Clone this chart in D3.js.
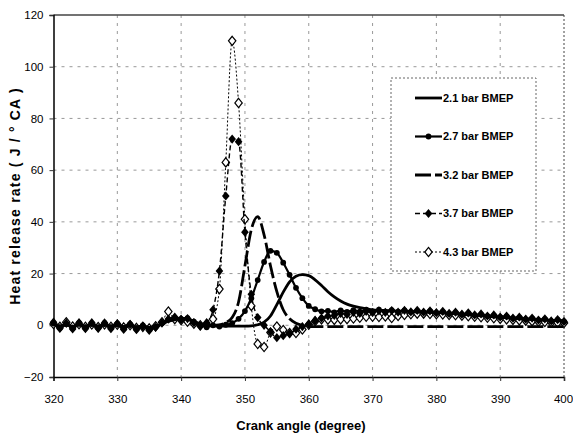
<!DOCTYPE html>
<html><head><meta charset="utf-8">
<script src="https://cdn.jsdelivr.net/npm/d3@7"></script>
<style>body{margin:0;background:#fff}svg{display:block}</style>
</head><body>
<svg id="c" width="573" height="439"></svg>
<script>
const angles = [320,321,322,323,324,325,326,327,328,329,330,331,332,333,334,335,336,337,338,339,340,341,342,343,344,345,346,347,348,349,350,351,352,353,354,355,356,357,358,359,360,361,362,363,364,365,366,367,368,369,370,371,372,373,374,375,376,377,378,379,380,381,382,383,384,385,386,387,388,389,390,391,392,393,394,395,396,397,398,399,400];
const s21 = [0.3,-0.3,0.2,-0.4,0.2,-0.3,0.1,-0.4,0.1,-0.3,0,-0.5,0,-0.6,-0.3,-0.8,-0.4,0.5,1.6,2.4,2.8,2.5,1.6,0.6,0.1,-0.2,-0.3,-0.3,-0.3,-0.3,-0.3,-0.2,0.2,1.2,3.6,8,12.8,16.8,19,19.6,19.2,17.6,15.4,13,11,9.4,8.2,7.4,6.8,6.4,6,5.8,5.7,5.6,5.5,5.4,5.3,5.2,5.1,5,4.9,4.8,4.6,4.5,4.3,4.1,3.9,3.7,3.5,3.3,3.1,2.9,2.8,2.6,2.4,2.3,2.1,2,1.9,1.8,1.7];
const s27 = [0.8,-1,0.5,-1.1,0.9,-0.9,0.7,-1,0.9,-0.8,0.6,-1.2,0.4,-1.3,0,-1.6,-0.6,0.8,2.2,2.8,2.4,2.8,1.4,0.2,-0.8,0,-0.5,0.2,0.8,2.5,5.5,10.5,17.5,24.5,28.8,28,24.2,19.5,14.5,10.5,7.5,6.2,5.4,5.6,5,5.8,5.2,5.9,5.3,6,5.4,6,5.3,5.9,5.2,5.8,5.1,5.6,5,5.5,4.8,5.2,4.5,4.9,4.2,4.6,3.9,4.2,3.5,3.8,3.1,3.4,2.7,3,2.3,2.7,2,2.4,1.6,2.1,1.4];
const s32 = [0.4,-0.4,0.3,-0.5,0.3,-0.4,0.2,-0.5,0.2,-0.4,0.1,-0.6,0,-0.7,-0.4,-1,-0.5,0.4,1.5,2.2,2.6,2.3,1.4,0.4,0,0,0.2,1,3,9,23,37,42,35,23,13,6,2.5,0.8,0,-0.5,-0.5,-0.5,-0.5,-0.5,-0.5,-0.5,-0.5,-0.5,-0.5,-0.5,-0.5,-0.5,-0.5,-0.5,-0.5,-0.5,-0.5,-0.5,-0.5,-0.5,-0.5,-0.5,-0.5,-0.5,-0.5,-0.5,-0.5,-0.5,-0.5,-0.5,-0.5,-0.5,-0.5,-0.5,-0.5,-0.5,-0.5,-0.5,-0.5,-0.5];
const s37 = [1.2,-1.2,0.8,-1.4,1,-1.3,1,-1.2,0.9,-1.3,0.7,-1.6,0.4,-1.7,-0.4,-2,-0.8,1,2.4,3.2,2.2,2.6,1,-0.4,1,6,21,50,72,71,36,12,3,0,-2.5,-4.8,-4,-3.2,-1.5,-0.5,0.5,1.8,2.8,3.6,3.8,4.6,4.2,5,4.6,5.4,4.9,5.6,5,5.7,5.1,5.8,5.2,5.8,5.1,5.6,4.9,5.4,4.6,5.1,4.3,4.8,4,4.4,3.6,4,3.2,3.6,2.8,3.2,2.4,2.8,2,2.5,1.7,2.2,1.5];
const s43 = [0.5,-0.6,1.2,-0.5,0.4,-0.6,0.3,-0.7,0.3,-0.6,0.2,-0.8,0,-1,-0.6,-1.2,-0.4,1.2,5.3,2.4,2,1.4,0.6,0,0.4,2.4,14,63,110,86,41,7.5,-7.2,-8.4,-2.8,-0.5,-1.8,-3,-3,-1.6,0.2,1.6,2.3,2.2,2.1,2.3,2.4,2.6,2.9,3.3,3.3,3.2,3.4,2.8,3.6,4,4.3,4.5,4.5,4.4,4.3,4.2,4,3.9,3.7,3.5,3.3,3.1,2.9,2.7,2.5,2.3,2.1,1.9,1.8,1.6,1.4,1.3,1.1,1,0.9];
const seriesNames = ["2.1 bar BMEP","2.7 bar BMEP","3.2 bar BMEP","3.7 bar BMEP","4.3 bar BMEP"];
const xTicks = [320,330,340,350,360,370,380,390,400];
const yTicks = [-20,0,20,40,60,80,100,120];

const svg = d3.select("#c");
const L = 53.5, R = 564, T = 15, B = 377;
const x = d3.scaleLinear().domain([320,400]).range([L,R]);
const y = d3.scaleLinear().domain([-20,120]).range([B,T]);
const font = "'Liberation Sans', Arial, sans-serif";

// gridlines
const g = svg.append("g");
g.selectAll(".gx").data(xTicks.slice(1,-1)).join("line")
  .attr("x1", d=>x(d)).attr("x2", d=>x(d)).attr("y1", T).attr("y2", B)
  .attr("stroke","#999").attr("stroke-width",1).attr("stroke-dasharray","3,5");
g.selectAll(".gy").data(yTicks.slice(1,-1)).join("line")
  .attr("x1", L).attr("x2", R).attr("y1", d=>y(d)).attr("y2", d=>y(d))
  .attr("stroke","#999").attr("stroke-width",1).attr("stroke-dasharray","3,5");

// frame
svg.append("line").attr("x1",L).attr("x2",R).attr("y1",T).attr("y2",T).attr("stroke","#444").attr("stroke-width",1.5);
svg.append("line").attr("x1",R).attr("x2",R).attr("y1",T).attr("y2",B).attr("stroke","#444").attr("stroke-width",1).attr("stroke-dasharray","2,2");

// axes
const xa = svg.append("g").attr("transform",`translate(0,${B})`)
  .call(d3.axisBottom(x).tickValues(xTicks).tickSize(4).tickPadding(14).tickFormat(d3.format("d")));
const ya = svg.append("g").attr("transform",`translate(${L},0)`)
  .call(d3.axisLeft(y).tickValues(yTicks).tickSize(4).tickPadding(6).tickFormat(d3.format("d")));
[xa,ya].forEach(a=>{
  a.select(".domain").attr("stroke","#000").attr("stroke-width",1.5);
  a.selectAll(".tick line").attr("stroke","#333");
  a.selectAll("text").attr("font-family",font).attr("font-size",11.5).attr("fill","#000");
});
xa.selectAll(".tick text").filter(d=>d===400).attr("dx","-1");

// series
const data = [s21,s27,s32,s37,s43];
const styles = [
  {w:2.8, dash:null, marker:null},
  {w:2.2, dash:null, marker:"circle"},
  {w:2.8, dash:"16,4", marker:null},
  {w:1.4, dash:"5,3", marker:"diamond"},
  {w:1, dash:"2,2", marker:"open"}
];
const line = d3.line().x(d=>x(d[0])).y(d=>y(d[1])).curve(d3.curveMonotoneX);
const diamond = (h,w)=>`M0,${-h}L${w},0L0,${h}L${-w},0Z`;
function drawMarker(sel, type){
  if(type==="circle") sel.append("circle").attr("r",2.9).attr("fill","#000");
  else if(type==="diamond") sel.append("path").attr("d",diamond(4.6,3.8)).attr("fill","#000");
  else if(type==="open") sel.append("path").attr("d",diamond(4.6,3.7)).attr("fill","#fff").attr("stroke","#000").attr("stroke-width",1.2);
}
const plot = svg.append("g");
[4,3,2,1,0].forEach(i=>{
  const vals = data[i];
  const pts = angles.map((a,j)=>[a, vals[j]]);
  const st = styles[i];
  plot.append("path").attr("d", line(pts)).attr("fill","none").attr("stroke","#000")
    .attr("stroke-width", st.w).attr("stroke-dasharray", st.dash);
  if(st.marker){
    pts.forEach(p=>{
      const m = plot.append("g").attr("transform",`translate(${x(p[0])},${y(p[1])})`);
      drawMarker(m, st.marker);
    });
  }
});

// legend
const lg = svg.append("g");
lg.append("rect").attr("x",391).attr("y",78).attr("width",145).attr("height",193)
  .attr("fill","#fff").attr("stroke","#666").attr("stroke-width",1).attr("stroke-dasharray","2,2");
seriesNames.forEach((name,i)=>{
  const cy = 98 + i*38.5;
  const st = styles[i];
  lg.append("line").attr("x1",415).attr("x2",442).attr("y1",cy).attr("y2",cy)
    .attr("stroke","#000").attr("stroke-width",st.w).attr("stroke-dasharray",st.dash);
  if(st.marker){
    const m = lg.append("g").attr("transform",`translate(428.5,${cy})`);
    drawMarker(m, st.marker);
  }
  lg.append("text").attr("x",443).attr("y",cy).attr("dy","0.36em")
    .attr("font-family",font).attr("font-size",11).attr("font-weight","bold").text(name);
});

// axis titles
svg.append("text").attr("x",301).attr("y",430).attr("text-anchor","middle")
  .attr("font-family",font).attr("font-size",13).attr("font-weight","bold").text("Crank angle (degree)");
svg.append("text").attr("transform",`translate(20,${(T+B)/2}) rotate(-90)`).attr("text-anchor","middle")
  .attr("font-family",font).attr("font-size",14).attr("font-weight","bold").attr("letter-spacing","1.2px")
  .text("Heat release rate ( J / ° CA )");
</script>
</body></html>
